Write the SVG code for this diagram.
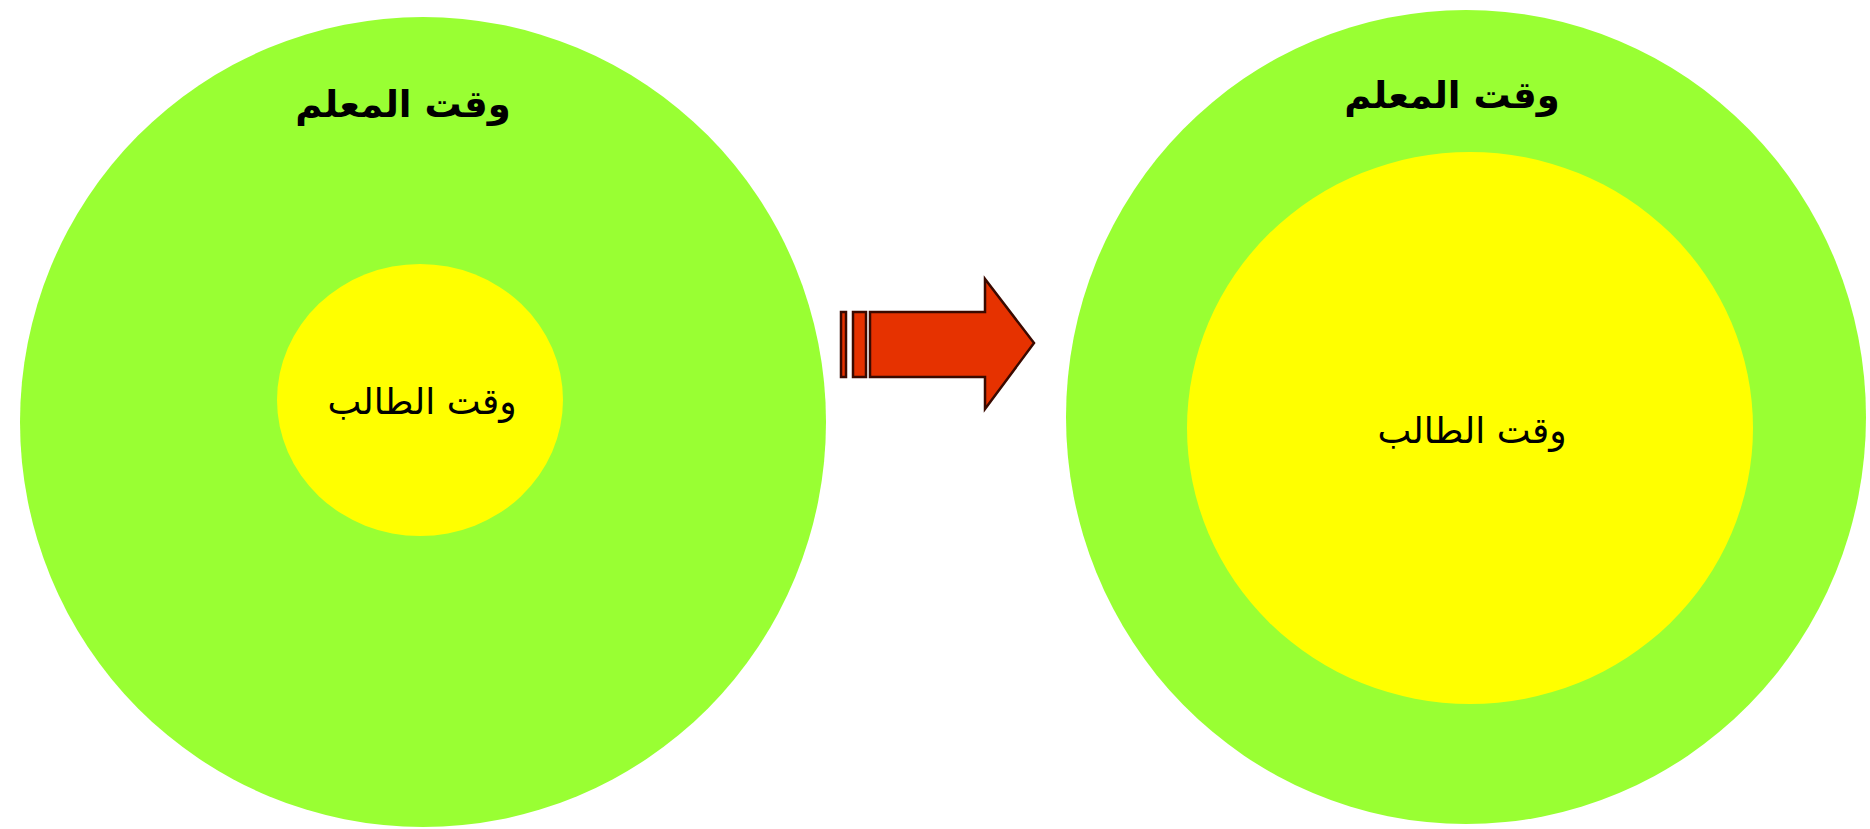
<svg xmlns="http://www.w3.org/2000/svg" width="1870" height="829" viewBox="0 0 1870 829">
<style>
.outer{fill:#99FF33}
.inner{fill:#FFFF00}
.title{font-family:"DejaVu Sans",sans-serif;font-size:37px;font-weight:bold;fill:#000;text-anchor:middle}
.label{font-family:"DejaVu Sans",sans-serif;font-size:36px;fill:#000;text-anchor:middle}
.arrow{fill:#E63200;stroke:#3A0A00;stroke-width:2.5;stroke-linejoin:miter}
</style>
<rect width="1870" height="829" fill="#FFFFFF"/>
<g id="before">
<ellipse class="outer" cx="423" cy="422" rx="403" ry="405"/>
<ellipse class="inner" cx="420" cy="400" rx="143" ry="136"/>
<text class="title" x="403" y="117" direction="rtl">وقت المعلم</text>
<text class="label" x="422" y="414" direction="rtl">وقت الطالب</text>
</g>
<g id="after">
<ellipse class="outer" cx="1466" cy="417" rx="400" ry="407"/>
<ellipse class="inner" cx="1470" cy="428" rx="283" ry="276"/>
<text class="title" x="1452" y="108" direction="rtl">وقت المعلم</text>
<text class="label" x="1472" y="443" direction="rtl">وقت الطالب</text>
</g>
<g id="connectors">
<rect class="arrow" x="841" y="312" width="5" height="65"/>
<rect class="arrow" x="853" y="312" width="13" height="65"/>
<path class="arrow" d="M870 312 L985 312 L985 279 L1034 343 L985 409 L985 377 L870 377 Z"/>
</g>
</svg>
